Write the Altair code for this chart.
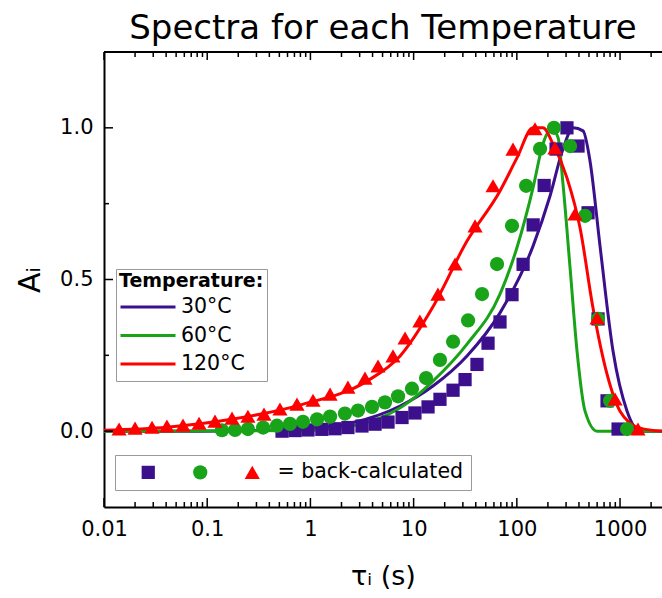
import altair as alt
import pandas as pd

# ---------------- data ----------------
temps = ["30°C", "60°C", "120°C"]
colors = ["#3c0f8c", "#19a319", "#ff0000"]

# back-calculated points
tau_30 = [0.531, 0.710, 0.948, 1.29, 1.73, 2.31, 3.16, 4.23, 5.65, 7.72, 10.3, 13.8, 18.0, 24.1,
          31.5, 41.1, 52.6, 68.7, 89.8, 115, 144, 184, 240, 306, 392, 490, 612, 748, 957]
a_30 = [0.0, 0.002, 0.004, 0.006, 0.008, 0.012, 0.017, 0.023, 0.03, 0.045, 0.06, 0.08, 0.105, 0.135,
        0.17, 0.22, 0.29, 0.36, 0.45, 0.55, 0.68, 0.81, 0.93, 1.0, 0.94, 0.72, 0.37, 0.1, 0.007]

tau_60 = [0.139, 0.186, 0.248, 0.348, 0.474, 0.634, 0.847, 1.16, 1.55, 2.16, 2.89, 3.95, 5.28, 7.06,
          9.64, 13.2, 18.0, 24.1, 33.7, 46.0, 64.3, 89.8, 123, 168, 229, 328, 458, 612, 800, 1170]
a_60 = [0.003, 0.004, 0.007, 0.012, 0.018, 0.024, 0.031, 0.039, 0.048, 0.058, 0.068, 0.08, 0.095, 0.115,
        0.14, 0.175, 0.235, 0.295, 0.365, 0.452, 0.551, 0.677, 0.809, 0.931, 1.0, 0.94, 0.71, 0.37, 0.1, 0.007]

tau_120 = [0.014, 0.020, 0.0292, 0.0407, 0.0583, 0.0834, 0.119, 0.174, 0.248, 0.355, 0.507, 0.741,
           1.06, 1.55, 2.31, 3.38, 4.52, 6.31, 8.26, 11.5, 17.2, 25.2, 39.4, 58.8, 91.8, 150, 234,
           366, 599, 895, 1493]
a_120 = [0.007, 0.01, 0.013, 0.017, 0.02, 0.026, 0.033, 0.043, 0.049, 0.056, 0.073, 0.089,
         0.102, 0.122, 0.145, 0.175, 0.215, 0.248, 0.307, 0.363, 0.452, 0.551, 0.677, 0.809, 0.93, 0.997, 0.934,
         0.716, 0.373, 0.106, 0.007]

# fitted spectra (lines)
ltau_30 = [0.01, 0.085, 0.26, 0.79, 2.42, 7.4, 15.4, 32.9, 68.7, 143.5, 210, 280, 351, 438, 512, 640, 855, 1170, 1563, 2550]
la_30 = [0.0, 0.0, 0.002, 0.007, 0.026, 0.083, 0.149, 0.248, 0.39, 0.61, 0.776, 0.93, 1.0, 0.99, 0.89, 0.61, 0.264, 0.066, 0.0, 0.0]

ltau_60 = [0.01, 0.79, 2.42, 9.23, 15.4, 32.9, 68.7, 100, 143.5, 179, 219, 251, 280, 328, 383, 458, 599, 2550]
la_60 = [0.0, 0.002, 0.016, 0.099, 0.165, 0.287, 0.452, 0.604, 0.802, 0.947, 0.997, 0.967, 0.815, 0.538, 0.264, 0.066, 0.0, 0.0]

ltau_120 = [0.01, 0.0407, 0.178, 0.79, 3.53, 7.4, 15.4, 32.9, 68.7, 100, 143.5, 179, 224, 306, 410, 547, 748, 1000, 1563, 2550]
la_120 = [0.003, 0.013, 0.04, 0.086, 0.165, 0.248, 0.41, 0.627, 0.792, 0.9, 1.0, 1.0, 0.947, 0.835, 0.67, 0.406, 0.188, 0.066, 0.01, 0.0]

x_major = [0.01, 0.1, 1, 10, 100, 1000]
x_minor = [m * d for d in [0.01, 0.1, 1, 10, 100, 1000] for m in range(2, 10) if m * d < 2550]
y_major = [0.0, 0.5, 1.0]
y_minor = [0.25, 0.75]

# ---------------- tables ----------------
pts = pd.concat([
    pd.DataFrame({"tau": tau_30, "A": a_30, "Series": temps[0]}),
    pd.DataFrame({"tau": tau_60, "A": a_60, "Series": temps[1]}),
    pd.DataFrame({"tau": tau_120, "A": a_120, "Series": temps[2]}),
])
lines = pd.concat([
    pd.DataFrame({"tau": ltau_30, "A": la_30, "Temperature": temps[0]}),
    pd.DataFrame({"tau": ltau_60, "A": la_60, "Temperature": temps[1]}),
    pd.DataFrame({"tau": ltau_120, "A": la_120, "Temperature": temps[2]}),
])

W, H = 558, 455
FONT = "DejaVu Sans"
xs = alt.Scale(type="log", domain=[0.01, 2550], nice=False)
ys = alt.Scale(domain=[-0.25, 1.25], nice=False, zero=False)

xaxis = alt.Axis(
    values=x_major, format="~g", title="τᵢ (s)", ticks=False, tickSize=0,
    labelFontSize=21, labelFont=FONT, labelColor="black", labelPadding=11,
    labelFlush=False, labelOverlap=False,
    domainColor="black", domainWidth=2, grid=False,
    titleFontSize=27, titleFont=FONT, titleFontWeight="normal", titleColor="black", titlePadding=24)
yaxis = alt.Axis(
    values=y_major, format=".1f", title="Aᵢ", ticks=False, tickSize=0,
    labelFontSize=21, labelFont=FONT, labelColor="black", labelPadding=11,
    labelFlush=False,
    domainColor="black", domainWidth=2, grid=False,
    titleFontSize=30, titleFont=FONT, titleFontWeight="normal", titleColor="black", titlePadding=14)

line_layer = alt.Chart(lines).mark_line(strokeWidth=3, interpolate="monotone", clip=True).encode(
    x=alt.X("tau:Q", scale=xs, axis=xaxis),
    y=alt.Y("A:Q", scale=ys, axis=yaxis),
    color=alt.Color("Temperature:N", sort=temps,
                    scale=alt.Scale(domain=temps, range=colors),
                    legend=alt.Legend(
                        title="Temperature:", orient="none", legendX=12, legendY=217,
                        titleFont=FONT, titleFontSize=19, titleFontWeight="bold", titleColor="black",
                        labelFont=FONT, labelFontSize=20.5, labelColor="black",
                        symbolType="stroke", symbolSize=3025, symbolStrokeWidth=3,
                        clipHeight=28, rowPadding=0.5, labelOffset=4,
                        strokeColor="#999999", padding=3, titlePadding=2)),
    detail="Temperature:N",
)

pt_layer = alt.Chart(pts).mark_point(filled=True, opacity=1, clip=True).encode(
    x=alt.X("tau:Q", scale=xs, axis=xaxis),
    y=alt.Y("A:Q", scale=ys, axis=yaxis),
    color=alt.Color("Series:N", sort=temps, scale=alt.Scale(domain=temps, range=colors),
                    legend=alt.Legend(
                        title=None, orient="none", legendX=11, legendY=403, direction="horizontal",
                        labelExpr="datum.label == '120°C' ? '= back-calculated' : ''",
                        labelFont=FONT, labelFontSize=20.5, labelColor="black", labelLimit=400,
                        symbolSize=200, symbolOpacity=1, symbolOffset=16, labelOffset=15, columnPadding=-4,
                        strokeColor="#999999", padding=7)),
    shape=alt.Shape("Series:N", sort=temps,
                    scale=alt.Scale(domain=temps, range=["square", "circle", "triangle-up"])),
    size=alt.Size("Series:N", sort=temps,
                  scale=alt.Scale(domain=temps, range=[175, 230, 290]), legend=None),
)

ticks_df_xM = pd.DataFrame({"t": x_major})
ticks_df_xm = pd.DataFrame({"t": x_minor})
ticks_df_yM = pd.DataFrame({"v": y_major})
ticks_df_ym = pd.DataFrame({"v": y_minor})

def xtick(df, y0, y1):
    return alt.Chart(df).mark_rule(color="black", strokeWidth=1.5).encode(
        x=alt.X("t:Q", scale=xs, axis=xaxis), y=alt.value(y0), y2=alt.value(y1))

def ytick(df, length):
    return alt.Chart(df).mark_rule(color="black", strokeWidth=1.5).encode(
        y=alt.Y("v:Q", scale=ys, axis=yaxis), x=alt.value(0), x2=alt.value(length))

top_spine = alt.Chart(ticks_df_xM).mark_rule(color="black", strokeWidth=2).encode(
    x=alt.value(0), x2=alt.value(W), y=alt.value(0))

chart = alt.layer(
    line_layer, pt_layer,
    xtick(ticks_df_xM, H, H - 9), xtick(ticks_df_xm, H, H - 5),
    xtick(ticks_df_xM, 0, 8), xtick(ticks_df_xm, 0, 5),
    ytick(ticks_df_yM, 9), ytick(ticks_df_ym, 5),
    top_spine,
).resolve_scale(color="independent", shape="independent", size="independent").properties(
    width=W, height=H,
    title=alt.TitleParams("Spectra for each Temperature", font=FONT, fontSize=34,
                          fontWeight="normal", color="black", anchor="middle", offset=5),
    autosize=alt.AutoSizeParams(type="none"),
    padding={"left": 104, "top": 52, "right": 0, "bottom": 91},
).configure_view(stroke=None).configure(background="white")

chart.save("out.html", embed_options={"renderer": "svg", "actions": False})
